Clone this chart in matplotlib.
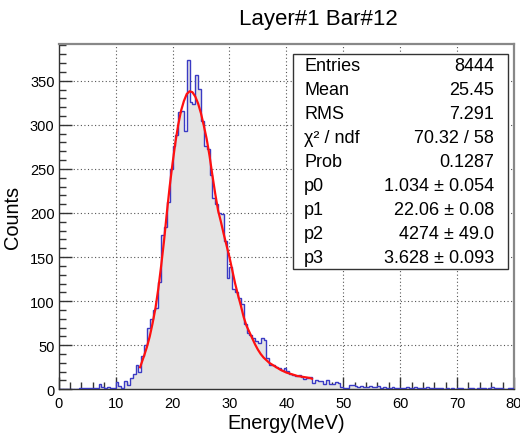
import numpy as np
import matplotlib
matplotlib.use("Agg")
import matplotlib.pyplot as plt
from matplotlib.ticker import MultipleLocator

plt.rcParams['font.family'] = ['Liberation Sans', 'DejaVu Sans']

# Histogram: 160 bins of 0.5 MeV from 0 to 80
E_MIN, E_MAX, BIN_W = 0.0, 80.0, 0.5
counts = [
    0, 0, 0, 0, 0, 0, 0, 1, 1, 2, 2, 1, 1, 2, 6, 3, 2, 3, 1, 1,                 # 0-10
    8, 4, 1, 9, 5, 13, 17, 27, 20, 38, 50, 69, 80, 90, 92, 122, 175, 184, 212, 250,  # 10-20
    276, 288, 314, 316, 293, 374, 326, 324, 357, 341, 304, 276, 273, 243, 217, 210, 200, 199, 168, 126,  # 20-30
    139, 114, 110, 103, 97, 74, 64, 62, 58, 55, 52, 58, 56, 35, 27, 28, 25, 24, 22, 24,  # 30-40
    21, 17, 16, 15, 16, 14, 12, 13, 14, 7, 10, 9, 9, 6, 10, 6, 6, 8, 7, 3,       # 40-50
    1, 2, 5, 5, 4, 3, 4, 3, 3, 4, 3, 3, 4, 2, 3, 2, 2, 3, 2, 1,                  # 50-60
    2, 1, 3, 1, 2, 3, 1, 2, 1, 3, 1, 1, 2, 1, 2, 0, 1, 0, 1, 0,                  # 60-70
    1, 1, 0, 0, 1, 2, 0, 1, 2, 1, 0, 1, 3, 2, 1, 2, 0, 0, 1, 1,                  # 70-80
]

# Fit curve (Landau x Gauss)
fit_x = [14.3, 15.0, 15.5, 16.0, 16.5, 17.0, 17.5, 18.0, 18.5, 19.0, 19.5, 20.0,
         20.5, 21.0, 21.5, 22.0, 22.5, 23.0, 23.5, 24.0, 24.5, 25.0, 25.5, 26.0,
         26.5, 27.0, 27.5, 28.0, 28.5, 29.0, 29.5, 30.0, 30.5, 31.0, 31.5, 32.0,
         32.5, 33.0, 33.5, 34.0, 34.5, 35.0, 35.5, 36.0, 36.5, 37.0, 37.5, 38.0,
         39.0, 40.0, 41.0, 42.0, 43.0, 44.0, 44.5]
fit_y = [25, 38, 48, 60, 75, 92, 114, 140, 168, 200, 230, 256,
         280, 300, 316, 327, 335, 338, 337, 332, 324, 313, 299, 284,
         265, 243, 222, 203, 190, 176, 163, 150, 135, 120, 107, 95,
         82, 72, 65, 58, 51, 45, 40, 36, 33, 30, 28, 26,
         22, 19, 17, 15, 14, 13, 12]

stat_labels = ["Entries", "Mean", "RMS", "\u03c7\u00b2 / ndf", "Prob",
               "p0", "p1", "p2", "p3"]
stat_values = ["8444", "25.45", "7.291", "70.32 / 58", "0.1287",
               "1.034 \u00b1 0.054", "22.06 \u00b1 0.08",
               "4274 \u00b1 49.0", "3.628 \u00b1 0.093"]

TITLE = "Layer#1 Bar#12"

W, H = 520, 435
fig = plt.figure(figsize=(W / 100, H / 100), dpi=100)
ax = fig.add_axes([58.7 / W, 1 - 390.3 / H, (514 - 58.7) / W, (390.3 - 44.7) / H])

edges = np.arange(E_MIN, E_MAX + BIN_W / 2, BIN_W)
ax.stairs(counts, edges, fill=True, color="#e4e4e4", zorder=2)
ax.stairs(counts, edges, color="#3a3ac4", linewidth=1.0, zorder=3)
ax.plot(fit_x, fit_y, color="#ff1010", linewidth=1.6, zorder=4)

ax.set_xlim(E_MIN, E_MAX)
ax.set_ylim(0, 392)
ax.grid(True, which="major", color="#555555", linestyle=(0, (1, 2.2)), linewidth=0.8, zorder=1)
ax.set_axisbelow(True)

ax.xaxis.set_major_locator(MultipleLocator(10))
ax.xaxis.set_minor_locator(MultipleLocator(2))
ax.yaxis.set_major_locator(MultipleLocator(50))
ax.yaxis.set_minor_locator(MultipleLocator(10))
ax.tick_params(which="both", direction="in", color="#333333", width=1.0,
               top=False, right=False, labelsize=10.5)
ax.tick_params(which="major", length=9)
ax.tick_params(which="minor", length=5)
ax.tick_params(axis="y", pad=3)
ax.tick_params(axis="x", pad=5)

for side in ["left", "bottom"]:
    ax.spines[side].set_color("#333333")
    ax.spines[side].set_linewidth(1.0)
for side in ["top", "right"]:
    ax.spines[side].set_color("#888888")
    ax.spines[side].set_linewidth(1.6)

ax.set_xlabel("Energy(MeV)", fontsize=14.4, labelpad=2)
ax.set_ylabel("Counts", fontsize=14.4, labelpad=6)

fig.text(318.5 / W, 1 - 20 / H, TITLE, fontsize=16, ha="center", va="center")

# stats box
bx0, bx1, by0, by1 = 292.7, 507.7, 55, 270
box = plt.Rectangle((bx0 / W, 1 - by1 / H), (bx1 - bx0) / W, (by1 - by0) / H,
                    transform=fig.transFigure, facecolor="white",
                    edgecolor="#333333", linewidth=1.0, zorder=10)
fig.patches.append(box)
row0, row_h = 66.7, 23.95
for i, (lab, val) in enumerate(zip(stat_labels, stat_values)):
    yy = 1 - (row0 + i * row_h) / H
    fig.text(304 / W, yy, lab, fontsize=13, ha="left", va="center", zorder=11)
    fig.text(494.3 / W, yy, val, fontsize=13, ha="right", va="center", zorder=11)

fig.savefig("out.png", dpi=100)
